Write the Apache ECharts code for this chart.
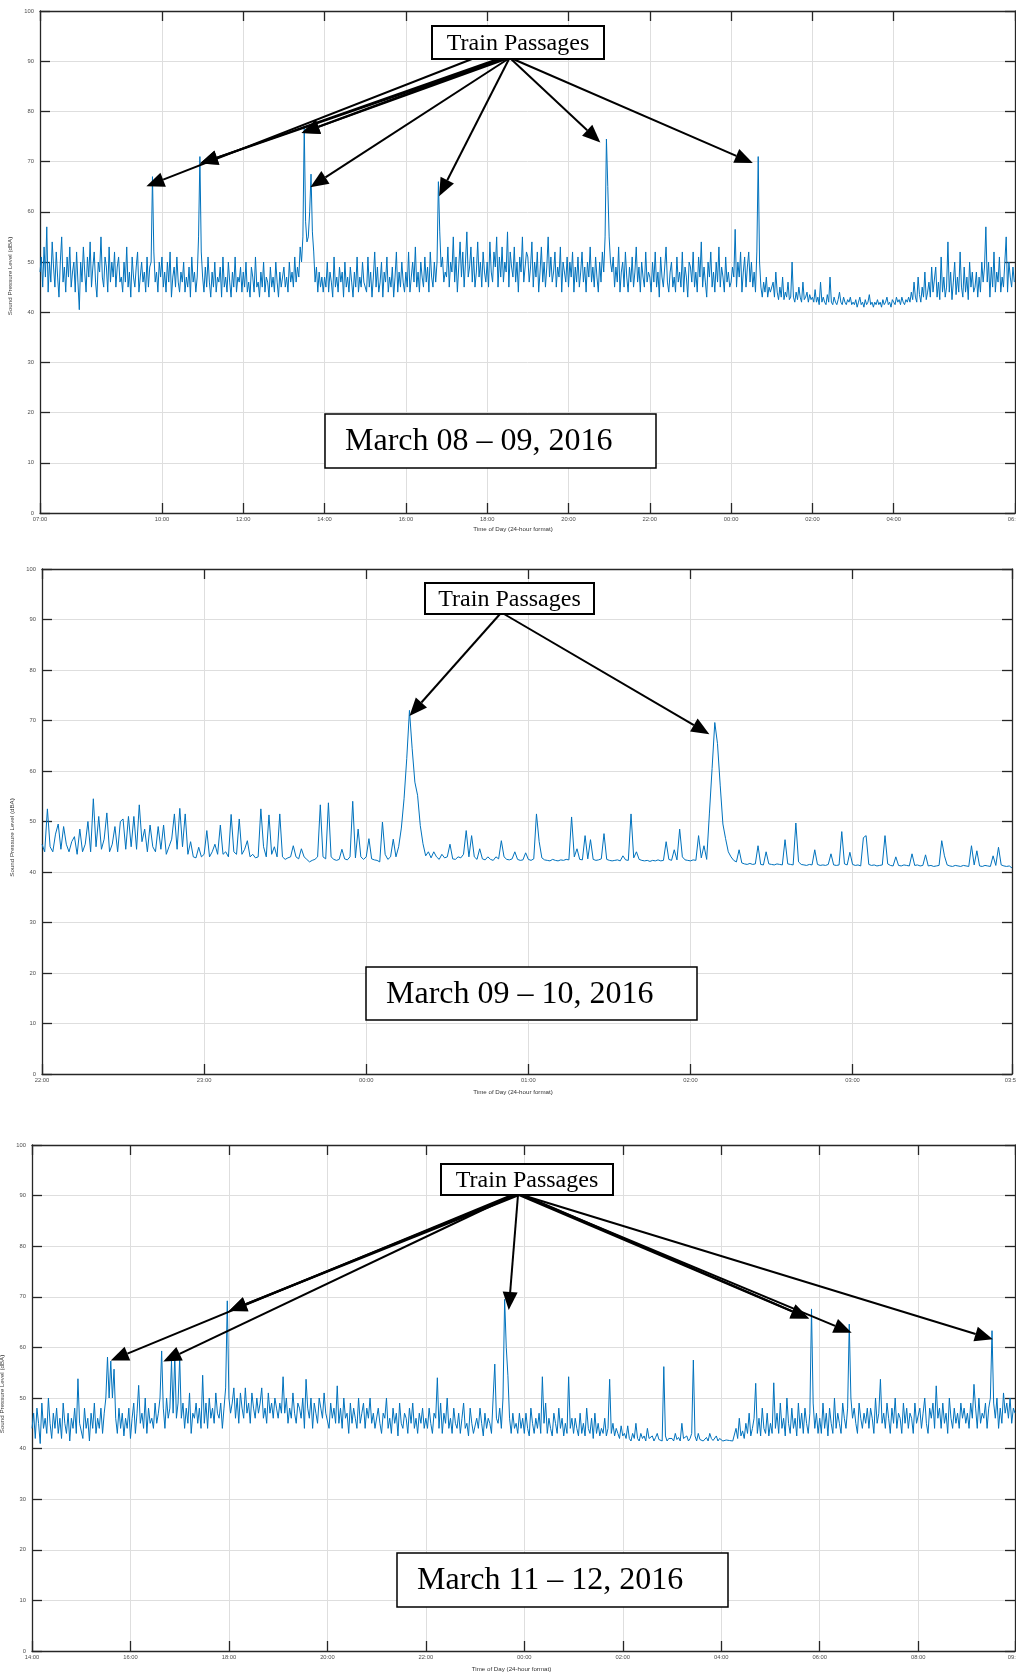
<!DOCTYPE html>
<html>
<head>
<meta charset="utf-8">
<title>Sound Pressure Level — March 2016</title>
<script src="https://cdn.jsdelivr.net/npm/echarts@6/dist/echarts.min.js"></script>
<style>
  html, body { margin: 0; padding: 0; background: #fff; }
  #chart { width: 1016px; height: 1676px; }
</style>
</head>
<body>
<div id="chart"></div>
<script>
// ---------------------------------------------------------------------------
// Measured sound pressure level (dBA), one reading per sampling step.
// ---------------------------------------------------------------------------

// March 08 – 09, 2016 : readings every 2 minutes from 07:00 (one row per hour)
const P1_STEP = 2;
const P1_SPL = [
  48,51,45,53,47,57,44,50,46,54,49,45,52,47,43,50,55,46,49,44,51,47,53,45,48,50,44,52,46,40.5,
  50,46,53,48,44,51,47,54,45,49,52,46,43,50,48,55,47,45,51,49,44,53,46,50,47,52,45,49,51,46,
  47,44,50,46,53,45,48,43,51,47,45,49,52,44,47,50,46,48,44,51,45,49,50,67,52,46,48,44,50,47,
  51,45,48,44,50,46,52,43,47,49,45,51,46,44,48,46,50,44,47,45,49,43,51,46,48,44,47,55,71,52,
  47,44,49,45,51,46,43,48,45,50,44,47,46,49,43,51,45,47,44,50,46,43,48,45,51,44,47,46,49,44,
  48,45,50,44,46,43,49,47,44,51,45,46,43,48,45,50,44,47,46,43,49,45,47,44,50,46,43,48,45,47,
  49,45,47,44,50,46,48,45,51,46,49,47,53,50,55,77,58,54,55,60,67.5,56,52,46,49,44,48,45,47,44,
  47,45,50,44,48,46,43,51,45,47,44,49,46,48,43,50,45,47,44,49,46,43,48,45,51,44,47,45,50,46,
  46,44,51,45,48,43,47,52,45,49,44,46,50,43,48,46,51,44,47,45,49,43,47,52,44,48,45,50,46,44,
  48,45,52,44,47,50,46,53,45,48,44,50,47,45,51,46,49,44,52,47,45,50,46,50,66,56,49,51,46,48,
  47,53,45,50,48,55,46,51,44,49,54,47,52,45,50,56,47,49,53,46,51,45,48,54,47,50,45,52,48,46,
  50,45,54,48,46,52,49,55,45,51,47,53,46,50,48,56,45,52,49,47,53,46,50,44,51,48,55,46,49,52,
  51,46,49,54,45,50,47,52,44,48,53,46,50,45,49,55,47,51,46,48,52,45,49,47,53,44,50,48,46,51,
  45,50,47,52,44,49,46,51,45,48,52,46,49,44,50,47,53,46,49,45,51,47,44,50,46,52,48,55,74.5,65,
  55,50,48,51,45,49,46,53,44,48,50,45,52,47,44,49,46,51,45,48,53,46,49,44,50,47,45,52,46,48,
  47,44,50,46,52,45,48,43,51,47,45,49,53,46,44,48,50,45,47,44,51,46,48,45,52,44,49,47,43,50,
  49,46,52,45,48,44,51,47,54,45,49,46,43,50,47,52,45,48,44,50,46,53,45,49,47,44,51,46,48,45,
  46,49,47,56.5,45,50,47,52,44,48,51,45,49,52,46,50,45,48,44,52,71,50,45,43,46,44,47,43,45,44,
  44,46,43,48,44,42.5,45,43,47,42.5,44,43,46,42.5,43,50,43,42,44,42.5,45,43,42,46,42.5,43,44,42,43.5,42.5,
  43,42,44.5,42,43,41.5,46,42,43,42,41.5,43.5,42,47,42,41.5,43,42,41.5,42.5,44,42,41.5,43,42,41.5,42.5,42,43,41.5,
  42,41.5,42.5,41,42,43,41.5,42,41,42.5,41.5,42,43.5,41.5,42,41,42,41.5,42.5,41.5,42,41,42.5,41.5,42,43,41.5,42,41,42.5,
  42,41.5,43,42,42.5,41.5,43,42,41.5,42.5,42,43,42,44,42.5,46,43,42,47,43.5,42,45,43,48,42.5,44,46,43,49,44,
  44,49,43,46,42.5,51,44,47,43,45,54,44,48,42.5,46,50,43.5,47,44,52,45,43,49,44,47,42.5,50,45,48,44,
  45,48,43,47,44,50,46,49,57,46,50,43,49,45,52,44,48,46,51,44,47,45,50,55,44,50,47,45,49,46
];
const P1_TICKS = ['07:00','10:00','12:00','14:00','16:00','18:00','20:00','22:00','00:00','02:00','04:00','06:59'];
const P1_DATE = 'March 08 \u2013 09, 2016';
// where each "Train Passages" arrow points: [minutes after 07:00, dBA]
const P1_ARROWS = [[157,65.1],[236,69.6],[236,69.6],[386,75.7],[386,75.7],[399,64.9],[589,63.1],[827,73.8],[1052,69.7]];

// March 09 – 10, 2016 : readings every minute from 22:00
const P2_STEP = 1;
const P2_SPL = [
  45.5,44,52.5,45,44,47.5,49.5,44.5,49,45.5,44,46,47,43.5,48.5,44,45.5,50,44,54.5,
  45,51,44.5,46.5,51.7,44,45.5,49,44,50,50.5,44.5,51,45,51,44.5,53.3,46,48.5,44,
  49.3,45,44,49,44.5,49.3,43.5,45,46.5,51.5,44.5,52.6,45,51.5,43.5,46,43,42.8,44.9,43,
  43.5,48.2,43,44,45.5,43.5,49.3,43.5,44,43,51.4,44,43.5,50.5,43.5,44.5,46.2,43,43.5,42.8,
  43,52.5,45,43,51.3,43.5,45,43,51.5,43,42.5,42.8,43,45.2,43,42.6,44.6,43,42.5,42,
  42.3,42.5,43,53.3,43,42.6,53.7,43,42.5,42.3,42.5,44.5,42.6,42.4,43,54,42.8,48.5,43,42.5,
  43,46.6,42.6,42.4,42.3,42,49.9,43.5,42.5,43,46.5,43,45,48.7,54.5,62.5,72,64.4,57.8,55.2,
  49.2,45.6,43.2,44,42.8,44,43,42.5,43.5,42.8,43,45.5,42.6,42.5,43,42.8,43.5,48.2,43,47.2,
  43,42.5,44.6,42.6,42.4,43,42.5,42.3,43,42.6,46.2,43,42.5,42.4,42.6,44,42.5,42.3,42.4,43.8,
  42.5,42.3,42.6,51.5,46,42.8,42.4,42.3,42.2,42.5,42.3,42.2,42.4,42.3,42.5,42.4,50.9,43,44.6,42.5,
  42.4,47.2,42.6,46.4,42.5,42.3,42.4,42.6,47.6,42.5,42.3,42.2,42.3,42.4,42.2,43.2,42.4,42.3,51.5,42.8,
  44,42.5,42.3,42.2,42.3,42.1,42.3,42.2,42.4,42.2,42.3,46,42.5,42.3,44.4,42.4,48.5,43,42.4,42.3,
  42.2,42.4,42.3,47.2,42.8,45.2,42.5,51.5,60.5,69.6,65.4,57.2,49.5,46.6,44,43,42.3,42,44.4,41.8,
  41.6,41.5,41.7,41.5,41.6,45.2,41.5,41.4,44,41.6,41.5,41.4,41.6,41.5,41.4,46.4,41.6,41.5,41.4,49.7,
  42,41.5,41.4,41.3,41.5,41.4,44.4,41.5,41.3,41.4,41.3,41.5,43.6,41.4,41.3,41.4,48,41.6,41.4,43.9,
  41.5,41.3,41.4,41.2,46.8,47.2,41.5,41.3,41.4,41.2,41.3,41.4,47.2,41.6,41.3,41.2,43,41.3,41.2,41.4,
  41.3,41.2,43.6,41.3,41.4,41.2,41.3,43.4,41.2,41.3,41.1,41.2,41.3,46.2,43.2,41.4,41.2,41.1,41.3,41.2,
  41.1,41.3,41.2,41.1,45.2,41.4,44.2,41.2,41.1,41.3,41.2,41.1,43.2,41.3,44.9,41.4,41.2,41.1,41.2,40.8
];
const P2_TICKS = ['22:00','23:00','00:00','01:00','02:00','03:00','03:59'];
const P2_DATE = 'March 09 \u2013 10, 2016';
const P2_ARROWS = [[136,70.9],[247,67.3]];

// March 11 – 12, 2016 : readings every 2 minutes from 14:00 (one row per hour)
const P3_STEP = 2;
const P3_SPL = [
  44,47,42,48,45,41,49,44,46,43,50,45,42,47,44,48,43,46,42,49,45,43,47,41.5,46,44,48,43,53.8,45,
  45,42,48,44,46,41.5,47,44,49,43,46,44,48,43,47,50,58.1,50,57.3,50,55.7,46,43,48,44,47,42.5,46,44,48,
  42,46,49,43,47,52.5,45,47,44,50,43,48,45,46,44,49,45,47,50,59.3,48,44,50,46,48,57.3,47,58.6,46,49,
  58,46,49,44,48,45,51,43,47,46,49,45,48,44,54.5,45,49,44,50,46,48,45,51,47,46,49,44,48,52,69.2,
  50,47,49,52,46,50,45,51,48,46,52,47,49,45,51,48,46,50,47,49,52,46,48,45,51,47,49,46,50,48,
  46,49,47,54.2,47,50,45,48,46,51,47,45,49,48,46,50,44,53.7,48,46,50,44,49,47,45,50,48,46,51,47,
  47,44,49,46,48,45,52.4,45,48,44,50,46,47,43,49,45,48,46,44,50,45,47,49,44,48,46,50,45,47,44,
  44,48,45,43,47,46,50,44,46,43,48,45,47,42.5,49,45,44,47,46,43,48,45,49,44,46,43,47,45,48,44,
  46,44,48,45,43,47,46,54,44,49,43,47,45,50,44,46,43,48,45,44,47,43,46,49,44,45,42.5,48,45,43,
  43,46,44,48,45,42.5,47,44,46,45,43,50,56.7,46,45,48,44,50,69.5,60,54.4,46,43,47,44,45,43,47,44,46,
  43,47,44,42.5,48,45,43,46,44,47,43,54.2,45,49,43,46,44,42.5,47,45,43,48,44,46,42.5,45,43,54.2,44,46,
  43,46,44,42.5,47,43,45,42.5,48,44,43,46,42,47,43,45,42.5,44,43,46,42.5,44,53.7,43,45,42.5,44,43,42,44.5,
  42.5,43,42,44.5,42,41.5,43,42,45,42,41.5,43,42,42.5,41.5,44,42,41.8,42.5,41.5,42.2,43,41.8,42,41.5,56.2,42.5,41.5,42,41.8,
  42,41.5,43,41.8,42.2,41.5,45,42,41.8,42.5,41.5,42,43,57.5,42.5,41.5,43,41.8,42,41.5,41.8,42.2,41.5,43,42,41.6,41.8,42.5,41.5,42,
  41.8,41.5,41.6,41.7,41.5,41.6,41.8,41.5,41.7,44,42,46,42.5,43.5,42,45,43,47,42.5,44,46,52.9,43,46,42.5,48,44,43,47,42.5,
  45,43,53,44,47,43,49,44,46,42.5,50,45,43,48,44,46,42.5,49,44,47,43,48,45,43,47,67.6,49,44,47,43,
  46,43,49,44,47,42.5,48,45,43,50,44,47,45,43,49,46,44,48,64.6,50,46,48,45,43,49,46,44,47,45,48,
  44,48,46,43,50,45,47,53.7,45,47,44,49,46,43,48,45,50,44,47,46,43,49,45,48,44,47,46,43,49,45,
  45,48,44,47,50,45,43,48,46,49,44,52.4,46,48,44,49,45,47,43,50,46,44,48,45,47,44,49,46,48,45,
  47,44,49,46,52.7,48,44,50,45,47,46,49,44,48,50,63.3,49,46,50,44,48,45,51,47,49,46,50,45,48,47
];
const P3_TICKS = ['14:00','16:00','18:00','20:00','22:00','00:00','02:00','04:00','06:00','08:00','09:58'];
const P3_DATE = 'March 11 \u2013 12, 2016';
const P3_ARROWS = [[96,57.4],[160,57.2],[240,67.2],[240,67.2],[581,67.4],[947,65.7],[947,65.7],[999,62.9],[1171,61.6]];

// Shared axis range and texts
const Y_MIN = 0, Y_MAX = 100, Y_STEP = 10;
const X_TITLE = 'Time of Day (24-hour format)';
const Y_TITLE = 'Sound Pressure Level (dBA)';
const TAG_TEXT = 'Train Passages';

// ---------------------------------------------------------------------------
// Page layout of the three panels (pixels)
// yPad: [top, right, bottom, left] padding of the rotated y title, used to
// slide it along the axis
// ---------------------------------------------------------------------------
const LAYOUT = [
  { grid: { left: 40, top: 11, width: 975, height: 502 }, xGap: 13, xShift: 29, yGap: 15, yPad: [0, 28, 0, 0],
    tag: { x: 432, y: 26, w: 172, h: 33 }, date: { x: 325, y: 414, w: 331, h: 54 },
    origins: [472, 498, 503, 501, 506, 508, 509, 511, 513] },
  { grid: { left: 42, top: 569, width: 970, height: 505 }, xGap: 15, xShift: 28, yGap: 15, yPad: [0, 32, 0, 0],
    tag: { x: 425, y: 583, w: 169, h: 31 }, date: { x: 366, y: 967, w: 331, h: 53 },
    origins: [500, 504] },
  { grid: { left: 32, top: 1145, width: 983, height: 506 }, xGap: 15, xShift: 24, yGap: 16, yPad: [0, 0, 0, 8],
    tag: { x: 441, y: 1164, w: 172, h: 31 }, date: { x: 397, y: 1553, w: 331, h: 54 },
    origins: [512, 514, 515, 519, 518, 519, 523, 521, 522] }
];

const PANELS = [
  { step: P1_STEP, values: P1_SPL, ticks: P1_TICKS, date: P1_DATE, arrows: P1_ARROWS },
  { step: P2_STEP, values: P2_SPL, ticks: P2_TICKS, date: P2_DATE, arrows: P2_ARROWS },
  { step: P3_STEP, values: P3_SPL, ticks: P3_TICKS, date: P3_DATE, arrows: P3_ARROWS }
];

// "HH:MM" -> minutes after midnight
function hm(s) { const [h, m] = s.split(':').map(Number); return h * 60 + m; }

const AXIS_COLOR = '#262626';
const GRID_COLOR = '#dedede';
const SANS = '"Liberation Sans", Arial, Helvetica, sans-serif';
const SERIF = '"Liberation Serif", "Times New Roman", serif';

const chart = echarts.init(document.getElementById('chart'), null, { renderer: 'canvas', width: 1016, height: 1676 });

const grid = [], xAxis = [], yAxis = [], series = [];

PANELS.forEach((p, i) => {
  const L = LAYOUT[i];
  const start = hm(p.ticks[0]);
  const tickMins = p.ticks.map(t => (hm(t) - start + 1440) % 1440);
  const labelOf = {};
  tickMins.forEach((m, k) => { labelOf[m] = p.ticks[k]; });
  const xMax = tickMins[tickMins.length - 1];

  // the last tick label runs past the page edge and is clipped there
  grid.push(Object.assign({ containLabel: false, outerBoundsMode: 'none' }, L.grid));

  const axisLine = { show: true, onZero: false, lineStyle: { color: AXIS_COLOR, width: 1.3 } };
  const xTick = { show: true, inside: true, length: 10, customValues: tickMins, lineStyle: { color: AXIS_COLOR, width: 1.3 } };
  const yTick = { show: true, inside: true, length: 10, lineStyle: { color: AXIS_COLOR, width: 1.3 } };

  xAxis.push({
    gridIndex: i, type: 'value', position: 'bottom', min: 0, max: xMax,
    axisLine, axisTick: xTick,
    axisLabel: {
      customValues: tickMins, margin: 3, fontSize: 5.8, color: '#4d4d4d', fontFamily: SANS,
      formatter: v => labelOf[Math.round(v)] || ''
    },
    splitLine: { show: true, lineStyle: { color: GRID_COLOR, width: 1 } },
    name: X_TITLE, nameLocation: 'middle', nameGap: L.xGap,
    nameTextStyle: { fontSize: 6.2, color: '#333', fontFamily: SANS, padding: [0, L.xShift, 0, 0] }
  });
  xAxis.push({
    gridIndex: i, type: 'value', position: 'top', min: 0, max: xMax,
    axisLine, axisTick: xTick, axisLabel: { show: false }, splitLine: { show: false }
  });

  yAxis.push({
    gridIndex: i, type: 'value', position: 'left', min: Y_MIN, max: Y_MAX, interval: Y_STEP,
    axisLine, axisTick: yTick,
    axisLabel: { margin: 6, fontSize: 5.8, color: '#4d4d4d', fontFamily: SANS },
    splitLine: { show: true, lineStyle: { color: GRID_COLOR, width: 1 } },
    name: Y_TITLE, nameLocation: 'middle', nameGap: L.yGap, nameRotate: 90,
    nameTextStyle: { fontSize: 6.2, color: '#333', fontFamily: SANS, padding: L.yPad }
  });
  yAxis.push({
    gridIndex: i, type: 'value', position: 'right', min: Y_MIN, max: Y_MAX, interval: Y_STEP,
    axisLine, axisTick: yTick, axisLabel: { show: false }, splitLine: { show: false }
  });

  series.push({
    type: 'line', xAxisIndex: 2 * i, yAxisIndex: 2 * i,
    data: p.values.map((v, k) => [k * p.step, v]),
    showSymbol: false, symbol: 'none', silent: true,
    lineStyle: { color: '#0072BD', width: 1 }, z: 3
  });
});

chart.setOption({ animation: false, backgroundColor: '#fff', grid, xAxis, yAxis, series });

// ---------------------------------------------------------------------------
// Annotations: "Train Passages" call-out with arrows, and the date box
// ---------------------------------------------------------------------------
function arrow(O, T) {
  const dx = T[0] - O[0], dy = T[1] - O[1], d = Math.hypot(dx, dy);
  const ux = dx / d, uy = dy / d;
  const len = 18, half = 7.5;
  const bx = T[0] - ux * len, by = T[1] - uy * len;
  return [
    { type: 'line', z: 100, silent: true,
      shape: { x1: O[0], y1: O[1], x2: bx, y2: by },
      style: { stroke: '#000', lineWidth: 2 } },
    { type: 'polygon', z: 101, silent: true,
      shape: { points: [[T[0], T[1]], [bx - uy * half, by + ux * half], [bx + uy * half, by - ux * half]] },
      style: { fill: '#000' } }
  ];
}

const graphic = [];
PANELS.forEach((p, i) => {
  const L = LAYOUT[i];
  const tg = L.tag, dt = L.date;
  p.arrows.forEach((target, k) => {
    const T = chart.convertToPixel({ xAxisIndex: 2 * i, yAxisIndex: 2 * i }, target);
    const O = [L.origins[k], tg.y + tg.h];
    graphic.push(...arrow(O, T));
  });
  graphic.push(
    { type: 'rect', z: 110, silent: true,
      shape: { x: tg.x, y: tg.y, width: tg.w, height: tg.h },
      style: { fill: '#fff', stroke: '#000', lineWidth: 2 } },
    { type: 'text', z: 111, silent: true, x: tg.x + tg.w / 2, y: tg.y + tg.h / 2 + 1,
      style: { text: TAG_TEXT, font: '24px ' + SERIF, fill: '#000', align: 'center', verticalAlign: 'middle' } },
    { type: 'rect', z: 110, silent: true,
      shape: { x: dt.x, y: dt.y, width: dt.w, height: dt.h },
      style: { fill: '#fff', stroke: '#000', lineWidth: 1.5 } },
    { type: 'text', z: 111, silent: true, x: dt.x + 20, y: dt.y + dt.h / 2 + 1,
      style: { text: p.date, font: '32px ' + SERIF, fill: '#000', align: 'left', verticalAlign: 'middle' } }
  );
});

chart.setOption({ graphic });
</script>
</body>
</html>
